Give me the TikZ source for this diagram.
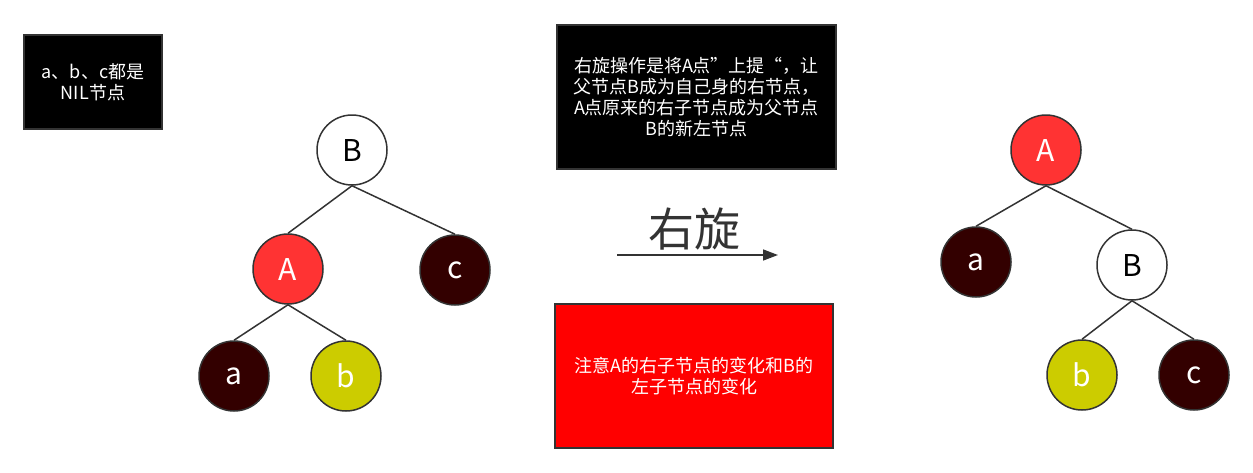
\documentclass[tikz,border=0pt]{standalone}
\usepackage{fontspec}
\setmainfont{Noto Sans CJK SC}
\usetikzlibrary{arrows.meta}
\definecolor{nodered}{HTML}{FF3333}
\definecolor{nildark}{HTML}{330000}
\definecolor{leafyellow}{HTML}{CCCC00}
\definecolor{rim}{HTML}{333333}
\tikzset{
  rbnode/.style={circle, draw=rim, line width=1.5pt, minimum size=70pt, inner sep=0pt,
    font=\fontsize{30}{32}\selectfont},
  rednode/.style={rbnode, fill=nodered, text=white},
  nilnode/.style={rbnode, fill=nildark, text=white},
  plainnode/.style={rbnode, fill=white, text=black},
  yellownode/.style={rbnode, fill=leafyellow, text=white},
  notebox/.style={draw=rim, line width=1.5pt, text=white, align=center,
    font=\fontsize{18}{21}\selectfont},
  treeedge/.style={draw=rim, line width=1.5pt}
}
\begin{document}
\begin{tikzpicture}[x=1pt, y=-1pt]
\useasboundingbox (0,0) rectangle (1253,472);
% notes
\node [notebox, fill=black, minimum width=138pt, minimum height=94pt] (nilnote) at (93,82)
  {a、b、c都是\\NIL节点};
\node [notebox, fill=black, minimum width=279pt, minimum height=144pt] (rotnote) at (696.5,97)
  {右旋操作是将A点”上提“，让\\父节点B成为自己身的右节点，\\A点原来的右子节点成为父节点\\B的新左节点};
\node [notebox, fill=red, minimum width=278pt, minimum height=144pt] (warnnote) at (694,376)
  {注意A的右子节点的变化和B的\\左子节点的变化};
% before
\node [plainnode] (B1) at (352,150) {B};
\node [rednode] (A1) at (288,269) {A};
\node [nilnode] (c1) at (455,270) {c};
\node [nilnode] (a1) at (234,376) {a};
\node [yellownode] (b1) at (346,376) {b};
\path [treeedge] (B1.south) -- (A1.north);
\path [treeedge] (B1.south) -- (c1.north);
\path [treeedge] (A1.south) -- (a1.north);
\path [treeedge] (A1.south) -- (b1.north);
% rotate
\node [text=rim, font=\fontsize{46}{48}\selectfont] (rottext) at (694,229) {右旋};
\coordinate (arrstart) at (617,255);
\coordinate (arrend) at (778,255);
\draw [rim, line width=1.5pt, -{Triangle[length=15pt, width=11pt]}] (arrstart) -- (arrend);
% after
\node [rednode] (A2) at (1046,150) {A};
\node [nilnode] (a2) at (976,262) {a};
\node [plainnode] (B2) at (1132,265) {B};
\node [yellownode] (b2) at (1082,375) {b};
\node [nilnode] (c2) at (1194,375) {c};
\path [treeedge] (A2.south) -- (a2.north);
\path [treeedge] (A2.south) -- (B2.north);
\path [treeedge] (B2.south) -- (b2.north);
\path [treeedge] (B2.south) -- (c2.north);
\end{tikzpicture}
\end{document}
